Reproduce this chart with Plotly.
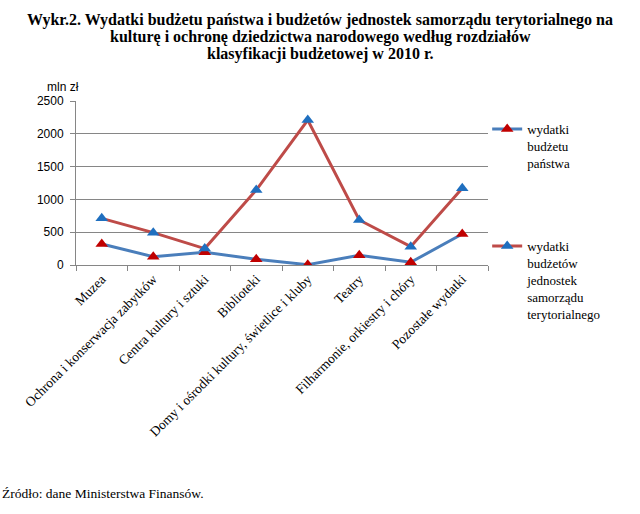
import plotly.graph_objects as go

categories = ["Muzea", "Ochrona i konserwacja zabytków", "Centra kultury i sztuki",
              "Biblioteki", "Domy i ośrodki kultury, świetlice i kluby", "Teatry",
              "Filharmonie, orkiestry i chóry", "Pozostałe wydatki"]
panstwo = [320, 127, 195, 87, 5, 148, 41, 473]
samorzad = [711, 493, 250, 1143, 2210, 686, 279, 1169]
y_ticks = [0, 500, 1000, 1500, 2000, 2500]

title_lines = ["Wykr.2. Wydatki budżetu państwa i budżetów jednostek samorządu terytorialnego na",
               "kulturę i ochronę dziedzictwa narodowego według rozdziałów",
               "klasyfikacji budżetowej w 2010 r."]

serif = "Liberation Serif, Times New Roman, serif"
sans = "Liberation Sans, Arial, sans-serif"

fig = go.Figure()
fig.add_trace(go.Scatter(
    x=categories, y=panstwo, mode="lines+markers",
    name="wydatki<br>budżetu<br>państwa",
    line=dict(color="#4A7EBB", width=3),
    marker=dict(symbol="triangle-up", size=11, color="#C00000"),
    legend="legend"))
fig.add_trace(go.Scatter(
    x=categories, y=samorzad, mode="lines+markers",
    name="wydatki<br>budżetów<br>jednostek<br>samorządu<br>terytorialnego",
    line=dict(color="#BE4B48", width=3),
    marker=dict(symbol="triangle-up", size=11, color="#1F6FBF"),
    legend="legend2"))

annotations = []
for i, t in enumerate(title_lines):
    annotations.append(dict(text="<b>" + t + "</b>", xref="paper", yref="paper",
                            x=(320 - 76) / 412, y=1 + (101 - (20 + 17 * i)) / 164,
                            xanchor="center", yanchor="middle", showarrow=False,
                            font=dict(family=serif, size=16, color="#000")))
annotations.append(dict(text="mln zł", xref="paper", yref="paper",
                        x=(63 - 76) / 412, y=1 + (101 - 87) / 164,
                        xanchor="center", yanchor="middle", showarrow=False,
                        font=dict(family=sans, size=12, color="#000")))
annotations.append(dict(text="Źródło: dane Ministerstwa Finansów.", xref="paper", yref="paper",
                        x=(0 - 76) / 412, y=-(493 - 265) / 164,
                        xanchor="left", yanchor="middle", showarrow=False,
                        font=dict(family=serif, size=13.5, color="#000")))

fig.update_layout(
    width=640, height=514, autosize=False,
    font=dict(family=serif, size=13, color="#000"),
    margin=dict(l=76, r=152, t=101, b=249),
    paper_bgcolor="white", plot_bgcolor="white",
    showlegend=True,
    annotations=annotations,
    legend=dict(x=0.998, y=1 - (114 - 101) / 164, xanchor="left", yanchor="top",
                font=dict(family=serif, size=13, color="#000"), valign="top",
                bgcolor="rgba(0,0,0,0)", itemwidth=30),
    legend2=dict(x=0.998, y=1 - (231 - 101) / 164, xanchor="left", yanchor="top",
                 font=dict(family=serif, size=13, color="#000"), valign="top",
                 bgcolor="rgba(0,0,0,0)", itemwidth=30),
    xaxis=dict(type="category", range=[-0.5, 7.5], tickangle=-45,
               tickson="boundaries", ticks="outside", ticklen=5, tickcolor="#868686",
               showline=True, linecolor="#868686", linewidth=1, showgrid=False,
               tickfont=dict(family=serif, size=13.5, color="#000")),
    yaxis=dict(range=[0, 2500], tickvals=y_ticks, ticks="outside", ticklen=5,
               tickcolor="#868686", showline=True, linecolor="#868686", linewidth=1,
               showgrid=True, gridcolor="#868686", gridwidth=1, zeroline=False,
               ticklabelstandoff=4,
               tickfont=dict(family=sans, size=12, color="#000")),
)

fig.write_html("out.html")
